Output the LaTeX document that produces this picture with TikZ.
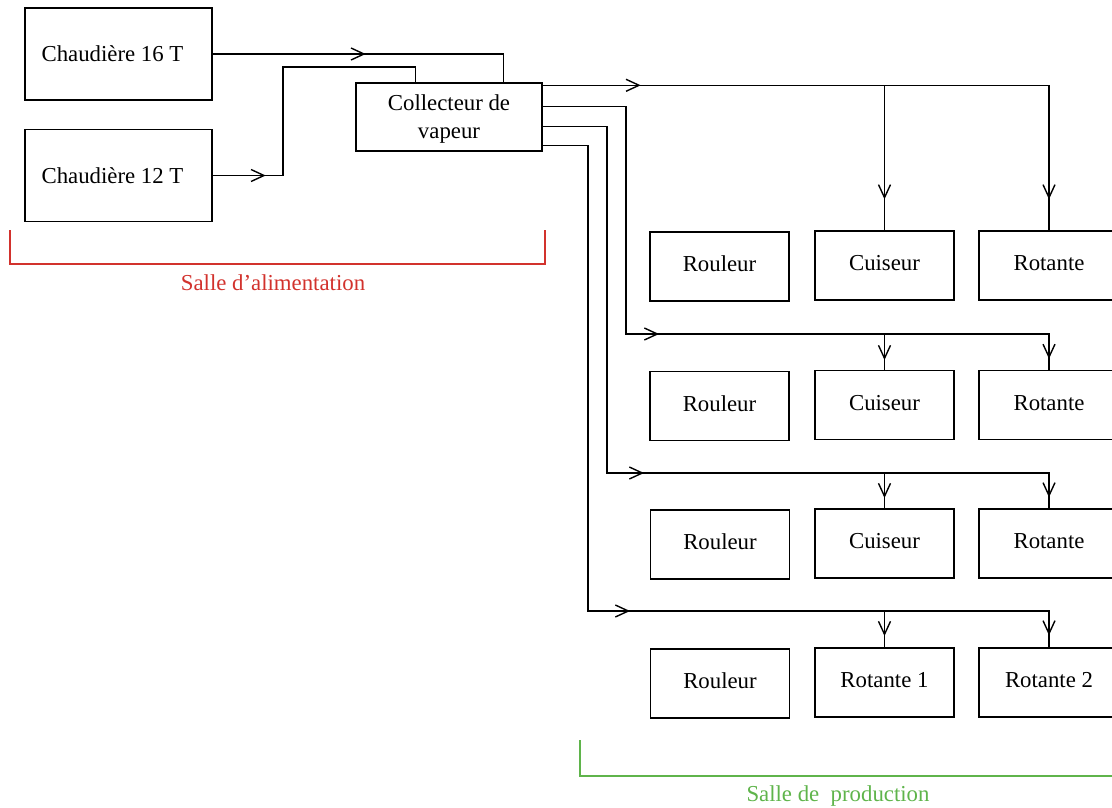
\documentclass[tikz,border=0pt]{standalone}
\usepackage{fontspec}
\setmainfont{Liberation Serif}
\usetikzlibrary{arrows.meta,decorations.markings}
\definecolor{roomred}{RGB}{210,50,45}
\definecolor{roomgreen}{RGB}{95,180,75}
\tikzset{barb/.tip={Straight Barb[length=13pt,width=12pt,line width=1.4pt]}}
\begin{document}
\begin{tikzpicture}[x=1pt,y=-1pt,
  box/.style={draw, line width=1.4pt, minimum width=139pt, minimum height=69pt,
    inner sep=0pt, align=center, font=\fontsize{22.8}{28}\selectfont},
  machine/.style={box, text height=16pt, text depth=6pt},
  boiler/.style={box, minimum width=187pt, minimum height=92pt},
  pipe/.style={line width=1.4pt},
  markone/.style={postaction={decorate}, decoration={markings,
    mark=at position #1 with {\arrow{barb}}}},
  marktwo/.style 2 args={postaction={decorate}, decoration={markings,
    mark=at position #1 with {\arrow{barb}},
    mark=at position #2 with {\arrow{barb}}}},
  room/.style={font=\fontsize{22.8}{28}\selectfont}]
\clip (0,0) rectangle (1112,808);

% boilers and steam collector
\node[boiler] (c16) at (118.5,54) {\hspace*{-12pt}Chaudière 16 T};
\node[boiler] (c12) at (118.5,175.5) {\hspace*{-12pt}Chaudière 12 T};
\node[box, minimum width=186pt, minimum height=68pt, text depth=0pt] (col) at (449,117) {Collecteur de\\vapeur};

% production machines, one row per steam line
\node[machine] (ro1) at (719.5,266.5) {Rouleur};
\node[machine] (cu1) at (884.5,265.5) {Cuiseur};
\node[machine, minimum width=140pt] (rt1) at (1049,265.5) {Rotante};

\node[machine] (ro2) at (719.5,406) {Rouleur};
\node[machine] (cu2) at (884.5,405) {Cuiseur};
\node[machine, minimum width=140pt] (rt2) at (1049,405) {Rotante};

\node[machine] (ro3) at (720,544.5) {Rouleur};
\node[machine] (cu3) at (884.5,543.5) {Cuiseur};
\node[machine, minimum width=140pt] (rt3) at (1049,543.5) {Rotante};

\node[machine] (ro4) at (720,683.5) {Rouleur};
\node[machine] (r41) at (884.5,682.5) {Rotante 1};
\node[machine, minimum width=140pt] (r42) at (1049,682.5) {Rotante 2};

% inlets of the collector
\coordinate (in16) at ([xshift=-39pt]col.north east);
\coordinate (in12) at ([xshift=60pt]col.north west);
\coordinate (b12) at (283,67);
\draw[pipe, markone=153pt] (c16.east) -| (in16);
\draw[pipe, markone=53pt] (c12.east) -| (b12) -| (in12);

% outlets of the collector
\coordinate (o1) at ([yshift=-3pt]col.north east);
\coordinate (o2) at ([yshift=-24pt]col.north east);
\coordinate (o3) at ([yshift=-44pt]col.north east);
\coordinate (o4) at ([yshift=-63pt]col.north east);
\coordinate (t2) at (626,334);
\coordinate (t3) at (607,473);
\coordinate (t4) at (588,611);

\draw[pipe, marktwo={98pt}{-31pt}] (o1) -| (rt1.north);
\draw[pipe, markone=114pt] (cu1.north |- o1) -- (cu1.north);

\draw[pipe, marktwo={344pt}{-11pt}] (o2) -| (t2) -| (rt2.north);
\draw[pipe, markone=26pt] (cu2.north |- t2) -- (cu2.north);

\draw[pipe, marktwo={448pt}{-11pt}] (o3) -| (t3) -| (rt3.north);
\draw[pipe, markone=25pt] (cu3.north |- t3) -- (cu3.north);

\draw[pipe, marktwo={553pt}{-12pt}] (o4) -| (t4) -| (r42.north);
\draw[pipe, markone=25pt] (r41.north |- t4) -- (r41.north);

% rooms
\draw[roomred, line width=1.2pt] (10,230) |- (545,264) -- (545,230);
\node[room, text=roomred] (alim) at (273,283) {Salle d’alimentation};
\draw[roomgreen, line width=1.2pt] (580,740) |- (1120,776);
\node[room, text=roomgreen] (prod) at (838,796) {Salle de \ production};
\end{tikzpicture}
\end{document}
